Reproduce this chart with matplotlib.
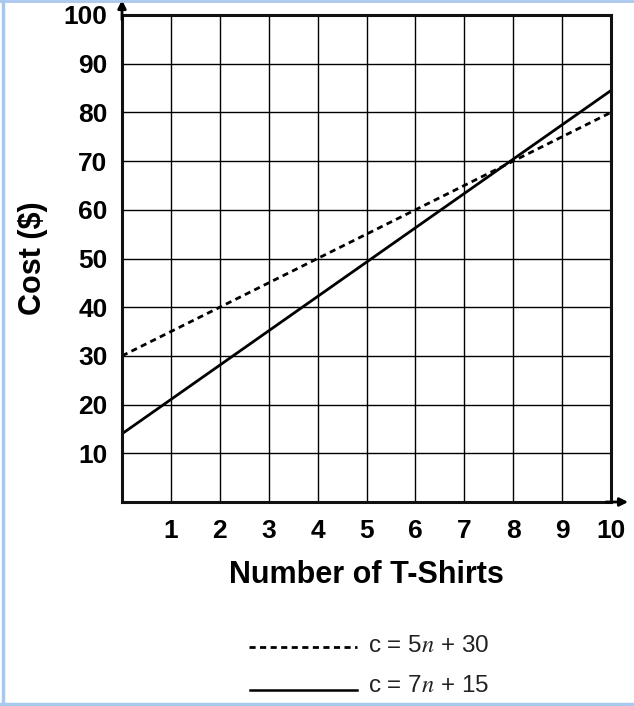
import matplotlib
matplotlib.use("Agg")
import matplotlib.pyplot as plt
from matplotlib.lines import Line2D

plt.rcParams['font.family'] = ['Liberation Sans', 'DejaVu Sans']
plt.rcParams['mathtext.fontset'] = 'stix'

# Data
n_values = [0, 10]
cost_dashed = [30, 80]      # c = 5n + 30
cost_solid = [14, 84.5]     # c = 7n + 15
x_ticks = [1, 2, 3, 4, 5, 6, 7, 8, 9, 10]
y_ticks = [10, 20, 30, 40, 50, 60, 70, 80, 90, 100]
legend_labels = ["c = 5$n$ + 30", "c = 7$n$ + 15"]

W, H = 634, 706
fig = plt.figure(figsize=(W / 100, H / 100), dpi=100)
ax = fig.add_axes([122 / W, 1 - 502 / H, 489 / W, 487 / H])

ax.set_xlim(0, 10)
ax.set_ylim(0, 100)
ax.set_xticks(range(0, 11))
ax.set_yticks(range(0, 101, 10))
ax.set_xticklabels([''] + [str(t) for t in x_ticks])
ax.set_yticklabels([''] + [str(t) for t in y_ticks])
ax.grid(True, color='black', linewidth=1.0)
ax.set_axisbelow(True)
ax.tick_params(length=0, labelsize=19)
for lab in ax.get_xticklabels() + ax.get_yticklabels():
    lab.set_fontweight('bold')
ax.tick_params(axis='y', pad=10.5)
ax.tick_params(axis='x', pad=12)
for s in ax.spines.values():
    s.set_linewidth(2.2)
    s.set_color('#111111')

ax.plot(n_values, cost_dashed, color='black', linewidth=2.0,
        linestyle=(0, (2.2, 1.6)), solid_capstyle='butt')
ax.plot(n_values, cost_solid, color='black', linewidth=2.0)

# axis arrows
ax.annotate('', xy=(0, 1.031), xytext=(0, 0.99), xycoords='axes fraction',
            arrowprops=dict(arrowstyle='-|>', color='black', lw=2.0,
                            mutation_scale=12, shrinkA=0, shrinkB=0),
            annotation_clip=False)
ax.annotate('', xy=(1.035, 0), xytext=(0.99, 0), xycoords='axes fraction',
            arrowprops=dict(arrowstyle='-|>', color='black', lw=2.0,
                            mutation_scale=12, shrinkA=0, shrinkB=0),
            annotation_clip=False)

ax.set_xlabel('Number of T-Shirts', fontsize=22, fontweight='bold', labelpad=12.5)
ax.set_ylabel('Cost ($)', fontsize=22, fontweight='bold', labelpad=11)

# manual legend
def fx(px):
    return px / W

def fy(py):
    return 1 - py / H

fig.add_artist(Line2D([fx(249), fx(357)], [fy(647), fy(647)], color='black',
                      linewidth=2.0, linestyle=(0, (2.2, 1.6))))
fig.add_artist(Line2D([fx(250), fx(357)], [fy(690), fy(690)], color='black',
                      linewidth=1.8))
fig.text(fx(368), fy(646), legend_labels[0], fontsize=17.5, va='center', ha='left',
         color='#222222')
fig.text(fx(368), fy(686), legend_labels[1], fontsize=17.5, va='center', ha='left',
         color='#222222')

# light blue frame (top, left, bottom)
frame_c = '#a9c8ee'
fig.add_artist(Line2D([fx(3), fx(3)], [fy(0), fy(704)], color=frame_c, linewidth=2.5))
fig.add_artist(Line2D([fx(0), fx(634)], [fy(704), fy(704)], color=frame_c, linewidth=2.5))
fig.add_artist(Line2D([fx(0), fx(634)], [fy(0.5), fy(0.5)], color=frame_c, linewidth=2.0))

fig.savefig('out.png', dpi=100)
